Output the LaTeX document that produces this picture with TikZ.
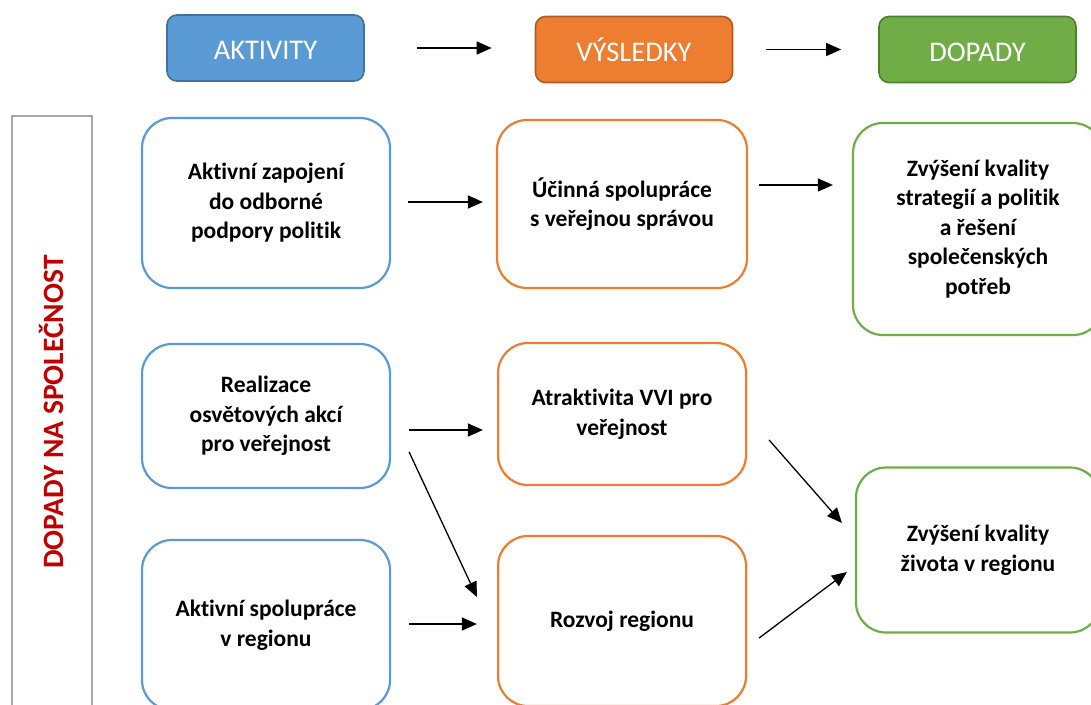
\documentclass[tikz,border=0pt]{standalone}
\usepackage{fontspec}
\setmainfont{Carlito}[Ligatures=NoCommon]
\usetikzlibrary{arrows.meta,calc}

\definecolor{cblue}{HTML}{5B9BD5}
\definecolor{cbluedark}{HTML}{41719C}
\definecolor{corange}{HTML}{ED7D31}
\definecolor{corangedark}{HTML}{AE5A21}
\definecolor{cgreen}{HTML}{70AD47}
\definecolor{cgreendark}{HTML}{507E32}
\definecolor{cgray}{HTML}{A6A6A6}
\definecolor{cred}{HTML}{C00000}

\tikzset{
  header/.style={draw, line width=1.6pt, rounded corners=10pt,
    minimum width=197pt, minimum height=66pt, text=white,
    text height=23pt, text depth=0pt,
    font=\fontsize{28.5}{32}\selectfont},
  card/.style={draw, fill=white, line width=2.2pt, rounded corners=30pt,
    minimum width=248pt, align=center,
    font=\bfseries\fontsize{23.5}{29.5}\selectfont},
  bluecard/.style={card, draw=cblue},
  orangecard/.style={card, draw=corange},
  greencard/.style={card, draw=cgreen},
  arr/.style={line width=1.3pt, -{Triangle[length=15pt,width=13pt]}},
}

\begin{document}
\begin{tikzpicture}[x=1pt,y=-1pt]
\useasboundingbox (0,0) rectangle (1091,704);

% column headers
\node[header, fill=cblue, draw=cbluedark] (h1) at (265.5,48) {AKTIVITY};
\node[header, fill=corange, draw=corangedark] (h2) at (634,49.5) {VÝSLEDKY};
\node[header, fill=cgreen, draw=cgreendark] (h3) at (977.5,49.5) {DOPADY};

\draw[arr, shorten <=52pt, shorten >=43pt] (h1.east) -- (h1.east -| h2.west);
\draw[arr, shorten <=33pt, shorten >=37pt] (h2.east) -- (h2.east -| h3.west);

% side panel
\node[draw=cgray, line width=2.4pt, minimum width=80pt, minimum height=610pt,
  anchor=north west, inner sep=0pt] (panel) at (11,115) {};
\node[rotate=90, text=cred, font=\bfseries\fontsize{29.5}{32}\selectfont]
  (paneltext) at (51,412) {DOPADY NA SPOLEČNOST};

% activities
\node[bluecard, minimum height=170pt] (a1) at (266,203)
  {Aktivní zapojení\\do odborné\\podpory politik};
\node[bluecard, minimum height=144pt] (a2) at (266,416)
  {Realizace\\osvětových akcí\\pro veřejnost};
\node[bluecard, minimum height=170pt] (a3) at (266,625)
  {Aktivní spolupráce\\v regionu};

% results
\node[orangecard, minimum width=250pt, minimum height=168pt] (v1) at (622,204)
  {Účinná spolupráce\\s veřejnou správou};
\node[orangecard, minimum height=142pt] (v2) at (622,414)
  {Atraktivita VVI pro\\veřejnost};
\node[orangecard, minimum height=170pt] (v3) at (622,621)
  {Rozvoj regionu};

% impacts
\node[greencard, minimum width=250pt, minimum height=212pt] (d1) at (978,229)
  {Zvýšení kvality\\strategií a politik\\a řešení\\společenských\\potřeb};
\node[greencard, minimum width=244pt, minimum height=165pt] (d2) at (978,550)
  {Zvýšení kvality\\života v regionu};

% connections
\draw[arr, shorten <=17pt, shorten >=13pt]
  ([yshift=1pt]a1.east) -- ([yshift=1pt]a1.east -| v1.west);
\draw[arr, shorten <=11pt, shorten >=19pt]
  ([yshift=19pt]v1.east) -- ([yshift=19pt]v1.east -| d1.west);
\draw[arr, shorten <=18pt, shorten >=14pt]
  ([yshift=-14pt]a2.east) -- ([yshift=-14pt]a2.east -| v2.west);
\draw[arr] ($(a2.east)+(18,36)$) -- ($(v3.west)+(-20,-24)$);
\draw[arr, shorten <=18pt, shorten >=20pt]
  ([yshift=1pt]a3.east) -- ([yshift=1pt]a3.east -| v3.west);
\draw[arr] ($(v2.east)+(22,26)$) -- ($(d2.west)+(-13,-27)$);
\draw[arr] ($(v3.east)+(12,17)$) -- ($(d2.west)+(-8,22)$);
\end{tikzpicture}
\end{document}
